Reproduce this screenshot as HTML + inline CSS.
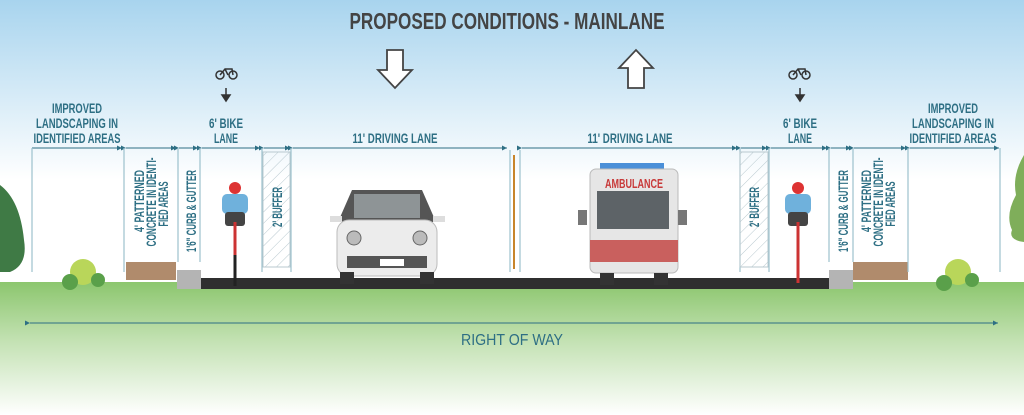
<!DOCTYPE html>
<html><head><meta charset="utf-8"><style>
html,body{margin:0;padding:0;width:1024px;height:415px;overflow:hidden;background:#fff}
svg{display:block}
text{font-family:"Liberation Sans",sans-serif}
.t{fill:#2e6f84;font-size:13.5px;font-weight:bold;text-anchor:middle}
</style></head><body>
<svg width="1024" height="415" viewBox="0 0 1024 415" xmlns="http://www.w3.org/2000/svg">
<defs>
<linearGradient id="sky" x1="0" y1="0" x2="0" y2="1"><stop offset="0" stop-color="#a8d4ee"/><stop offset="1" stop-color="#ffffff"/></linearGradient>
<linearGradient id="gr" x1="0" y1="0" x2="0" y2="1"><stop offset="0" stop-color="#8cc66e"/><stop offset="0.45" stop-color="#c4e2b4"/><stop offset="1" stop-color="#ffffff"/></linearGradient>
<pattern id="hat" width="8" height="8" patternUnits="userSpaceOnUse" patternTransform="rotate(45)"><line x1="0" y1="0" x2="0" y2="8" stroke="#b9c9cf" stroke-width="1"/></pattern>
<marker id="a" markerWidth="6" markerHeight="6" refX="5" refY="3" orient="auto"><path d="M0,0.5L5,3L0,5.5z" fill="#2e6f84"/></marker>
</defs>
<rect width="1024" height="180" fill="url(#sky)"/>
<rect y="282" width="1024" height="133" fill="url(#gr)"/>
<rect x="200" y="278" width="630" height="11" fill="#2f2f2f"/>
<rect x="177" y="270" width="24" height="19" fill="#b4b4b4"/>
<rect x="829" y="270" width="24" height="19" fill="#b4b4b4"/>
<rect x="126" y="262" width="50" height="18" fill="#b08b6c"/>
<rect x="853" y="262" width="55" height="18" fill="#b08b6c"/>
<text x="507" y="29" text-anchor="middle" font-size="23" font-weight="bold" fill="#444" textLength="315" lengthAdjust="spacingAndGlyphs">PROPOSED CONDITIONS - MAINLANE</text>
<path d="M387,50h16v20h9l-17,18l-17,-18h9z" fill="#fff" stroke="#444" stroke-width="1.8"/>
<path d="M628,88h16v-20h9l-17,-18l-17,18h9z" fill="#fff" stroke="#444" stroke-width="1.8"/>
<g stroke="#333" stroke-width="1.5" fill="none"><circle cx="220" cy="75" r="4"/><circle cx="233" cy="75" r="4"/><path d="M220,75l5,-6h7l1,6M225,69l3,6"/>
<circle cx="793" cy="75" r="4"/><circle cx="806" cy="75" r="4"/><path d="M793,75l5,-6h7l1,6M798,69l3,6"/></g>
<path d="M226,88v9M222,95l4,6l4,-6z" stroke="#333" stroke-width="1.5" fill="#333"/>
<path d="M800,88v9M796,95l4,6l4,-6z" stroke="#333" stroke-width="1.5" fill="#333"/>
<text class="t" x="77" y="113" textLength="50" lengthAdjust="spacingAndGlyphs">IMPROVED</text>
<text class="t" x="77" y="128" textLength="82" lengthAdjust="spacingAndGlyphs">LANDSCAPING IN</text>
<text class="t" x="77" y="143" textLength="87" lengthAdjust="spacingAndGlyphs">IDENTIFIED AREAS</text>
<text class="t" x="226" y="128" textLength="34" lengthAdjust="spacingAndGlyphs">6' BIKE</text>
<text class="t" x="226" y="143" textLength="24" lengthAdjust="spacingAndGlyphs">LANE</text>
<text class="t" x="395" y="143" textLength="85" lengthAdjust="spacingAndGlyphs">11' DRIVING LANE</text>
<text class="t" x="630" y="143" textLength="85" lengthAdjust="spacingAndGlyphs">11' DRIVING LANE</text>
<text class="t" x="800" y="128" textLength="34" lengthAdjust="spacingAndGlyphs">6' BIKE</text>
<text class="t" x="800" y="143" textLength="24" lengthAdjust="spacingAndGlyphs">LANE</text>
<text class="t" x="953" y="113" textLength="50" lengthAdjust="spacingAndGlyphs">IMPROVED</text>
<text class="t" x="953" y="128" textLength="82" lengthAdjust="spacingAndGlyphs">LANDSCAPING IN</text>
<text class="t" x="953" y="143" textLength="87" lengthAdjust="spacingAndGlyphs">IDENTIFIED AREAS</text>
<g stroke="#2e6f84" stroke-width="1" marker-end="url(#a)" marker-start="url(#a)">
<line x1="32" y1="148" x2="122" y2="148" marker-start="none"/>
<line x1="126" y1="148" x2="176" y2="148"/>
<line x1="179" y1="148" x2="198" y2="148"/>
<line x1="202" y1="148" x2="260" y2="148"/>
<line x1="264" y1="148" x2="290" y2="148"/>
<line x1="293" y1="148" x2="507" y2="148"/>
<line x1="522" y1="148" x2="737" y2="148"/>
<line x1="741" y1="148" x2="767" y2="148"/>
<line x1="771" y1="148" x2="827" y2="148"/>
<line x1="831" y1="148" x2="851" y2="148"/>
<line x1="854" y1="148" x2="906" y2="148"/>
<line x1="910" y1="148" x2="999" y2="148"/>
<line x1="30" y1="323" x2="998" y2="323"/>
</g>
<g stroke="#9cc1cd" stroke-width="1.2">
<line x1="32" y1="148" x2="32" y2="272"/><line x1="124" y1="148" x2="124" y2="272"/>
<line x1="178" y1="148" x2="178" y2="262"/><line x1="200" y1="148" x2="200" y2="262"/>
<line x1="262" y1="148" x2="262" y2="272"/><line x1="291" y1="148" x2="291" y2="272"/>
<line x1="510" y1="150" x2="510" y2="272"/><line x1="520" y1="150" x2="520" y2="272"/>
<line x1="740" y1="148" x2="740" y2="272"/><line x1="769" y1="148" x2="769" y2="272"/>
<line x1="829" y1="148" x2="829" y2="262"/><line x1="853" y1="148" x2="853" y2="262"/>
<line x1="908" y1="148" x2="908" y2="272"/><line x1="1000" y1="148" x2="1000" y2="272"/>
</g>
<line x1="514" y1="155" x2="514" y2="269" stroke="#c8852a" stroke-width="2"/>
<rect x="263" y="152" width="27" height="115" fill="url(#hat)" stroke="#b9c9cf"/>
<rect x="740" y="152" width="28" height="115" fill="url(#hat)" stroke="#b9c9cf"/>
<g class="t" font-size="12.5">
<text transform="translate(144,201) rotate(-90)" textLength="62" lengthAdjust="spacingAndGlyphs">4' PATTERNED</text>
<text transform="translate(156,202) rotate(-90)" textLength="89" lengthAdjust="spacingAndGlyphs">CONCRETE IN IDENTI-</text>
<text transform="translate(168,204) rotate(-90)" textLength="45" lengthAdjust="spacingAndGlyphs">FIED AREAS</text>
<text transform="translate(196,211) rotate(-90)" textLength="82" lengthAdjust="spacingAndGlyphs">1'6" CURB &amp; GUTTER</text>
<text transform="translate(282,207) rotate(-90)" font-size="14" textLength="40" lengthAdjust="spacingAndGlyphs">2' BUFFER</text>
<text transform="translate(759,207) rotate(-90)" font-size="14" textLength="40" lengthAdjust="spacingAndGlyphs">2' BUFFER</text>
<text transform="translate(848,211) rotate(-90)" textLength="82" lengthAdjust="spacingAndGlyphs">1'6" CURB &amp; GUTTER</text>
<text transform="translate(871,201) rotate(-90)" textLength="62" lengthAdjust="spacingAndGlyphs">4' PATTERNED</text>
<text transform="translate(883,202) rotate(-90)" textLength="89" lengthAdjust="spacingAndGlyphs">CONCRETE IN IDENTI-</text>
<text transform="translate(895,204) rotate(-90)" textLength="45" lengthAdjust="spacingAndGlyphs">FIED AREAS</text>
</g>
<g><circle cx="235" cy="188" r="6" fill="#d33"/><rect x="222" y="194" width="26" height="20" rx="5" fill="#6fb1dc"/><rect x="225" y="212" width="20" height="14" rx="3" fill="#444"/><line x1="235" y1="222" x2="235" y2="286" stroke="#c33" stroke-width="3"/><line x1="235" y1="255" x2="235" y2="286" stroke="#222" stroke-width="3"/></g>
<g><circle cx="798" cy="188" r="6" fill="#d33"/><rect x="785" y="194" width="26" height="20" rx="5" fill="#6fb1dc"/><rect x="788" y="212" width="20" height="14" rx="3" fill="#444"/><line x1="798" y1="222" x2="798" y2="283" stroke="#c33" stroke-width="3"/></g>
<g><path d="M352,190h70l14,32h-98z" fill="#555"/><rect x="354" y="194" width="66" height="24" fill="#8e9496"/>
<rect x="337" y="220" width="100" height="56" rx="12" fill="#ececec" stroke="#bbb"/><rect x="330" y="216" width="12" height="6" fill="#ddd"/><rect x="433" y="216" width="12" height="6" fill="#ddd"/>
<circle cx="354" cy="238" r="7" fill="#bbb" stroke="#666"/><circle cx="420" cy="238" r="7" fill="#bbb" stroke="#666"/>
<rect x="347" y="256" width="80" height="12" fill="#555"/><rect x="380" y="259" width="24" height="7" fill="#fff"/>
<rect x="340" y="272" width="14" height="12" fill="#333"/><rect x="420" y="272" width="14" height="12" fill="#333"/></g>
<g><rect x="600" y="163" width="64" height="6" fill="#4a8fd8"/><rect x="590" y="169" width="88" height="104" rx="6" fill="#e6e6e6" stroke="#bbb"/>
<text x="634" y="188" text-anchor="middle" font-size="12.5" font-weight="bold" fill="#c83a3a" textLength="58" lengthAdjust="spacingAndGlyphs">AMBULANCE</text>
<rect x="597" y="191" width="72" height="38" fill="#5d6367"/><rect x="590" y="240" width="88" height="22" fill="#c9605e"/>
<rect x="578" y="210" width="9" height="15" fill="#777"/><rect x="678" y="210" width="9" height="15" fill="#777"/>
<rect x="600" y="273" width="14" height="12" fill="#333"/><rect x="654" y="273" width="14" height="12" fill="#333"/></g>
<circle cx="83" cy="272" r="13" fill="#b9d65a"/><circle cx="70" cy="282" r="8" fill="#5aa04a"/><circle cx="98" cy="280" r="7" fill="#5aa04a"/>
<circle cx="958" cy="272" r="13" fill="#b9d65a"/><circle cx="944" cy="283" r="8" fill="#5aa04a"/><circle cx="972" cy="280" r="7" fill="#5aa04a"/>
<path d="M0,185 Q20,200 24,240 Q28,265 10,272 L0,272z" fill="#3f7a45"/>
<path d="M1024,155 Q1012,175 1016,195 Q1005,215 1012,230 Q1008,240 1024,242z" fill="#7fae5a"/>
<text x="512" y="345" text-anchor="middle" font-size="16" fill="#2e6f84" textLength="102" lengthAdjust="spacingAndGlyphs">RIGHT OF WAY</text>
</svg>
</body></html>
